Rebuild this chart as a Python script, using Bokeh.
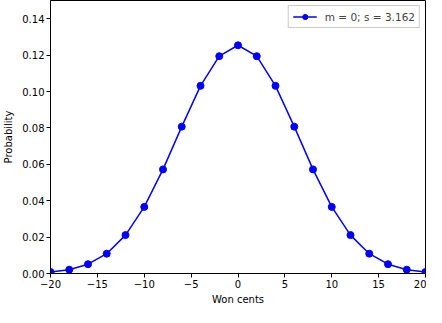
from bokeh.plotting import figure
from bokeh.models import FixedTicker, Range1d, Legend, LegendItem
from bokeh.embed import file_html
from bokeh.resources import INLINE

won_cents = [-20, -18, -16, -14, -12, -10, -8, -6, -4, -2, 0, 2, 4, 6, 8, 10, 12, 14, 16, 18, 20]
probability = [0.0008, 0.0021, 0.0051, 0.0109, 0.0211, 0.0366, 0.0572, 0.0807, 0.1031, 0.1194, 0.1254,
               0.1194, 0.1031, 0.0807, 0.0572, 0.0366, 0.0211, 0.0109, 0.0051, 0.0021, 0.0008]
series_label = "m = 0; s = 3.162"
x_ticks = [-20, -15, -10, -5, 0, 5, 10, 15, 20]
y_ticks = [0.00, 0.02, 0.04, 0.06, 0.08, 0.10, 0.12, 0.14]

FONT = "DejaVu Sans"

p = figure(width=426, height=307, output_backend="svg", toolbar_location=None,
           x_range=Range1d(-20, 20), y_range=Range1d(0, 0.15),
           min_border_left=46, min_border_right=1, min_border_top=0, min_border_bottom=29)

line = p.line(won_cents, probability, line_color="#0000ff", line_width=1.5)
pts = p.scatter(won_cents, probability, size=7, fill_color="#0000ff", line_color="#0000ff")

p.xgrid.visible = False
p.ygrid.visible = False
p.outline_line_color = "black"
p.outline_line_width = 1

p.xaxis.ticker = FixedTicker(ticks=x_ticks)
p.xaxis.major_label_overrides = {t: (str(t).replace("-", "\u2212")) for t in x_ticks}
p.yaxis.ticker = FixedTicker(ticks=y_ticks)
p.yaxis.major_label_overrides = {t: f"{t:.2f}" for t in y_ticks}

for ax in (p.xaxis[0], p.yaxis[0]):
    ax.minor_tick_line_color = None
    ax.major_tick_out = 4
    ax.major_tick_in = 0
    ax.axis_line_color = "black"
    ax.major_tick_line_color = "black"
    ax.major_label_text_font = FONT
    ax.major_label_text_font_size = "10px"
    ax.major_label_text_color = "black"
    ax.axis_label_text_font = FONT
    ax.axis_label_text_font_size = "10px"
    ax.axis_label_text_font_style = "normal"
    ax.axis_label_text_color = "black"
    ax.axis_label_standoff = 3
    ax.major_label_standoff = 2

p.xaxis.axis_label = "Won cents"
p.yaxis.axis_label = "Probability"
p.yaxis.axis_label_standoff = 5

legend = Legend(items=[LegendItem(label=series_label, renderers=[line, pts])],
                location="top_right")
legend.label_text_font = FONT
legend.label_text_font_size = "10.5px"
legend.border_line_color = "#cccccc"
legend.border_line_alpha = 1
legend.background_fill_alpha = 0.8
legend.margin = 5
legend.padding = 4
legend.spacing = 0
legend.glyph_width = 24
legend.glyph_height = 13
legend.label_standoff = 8
legend.label_height = 13
p.add_layout(legend)

open("out.html", "w").write(file_html(p, INLINE))
